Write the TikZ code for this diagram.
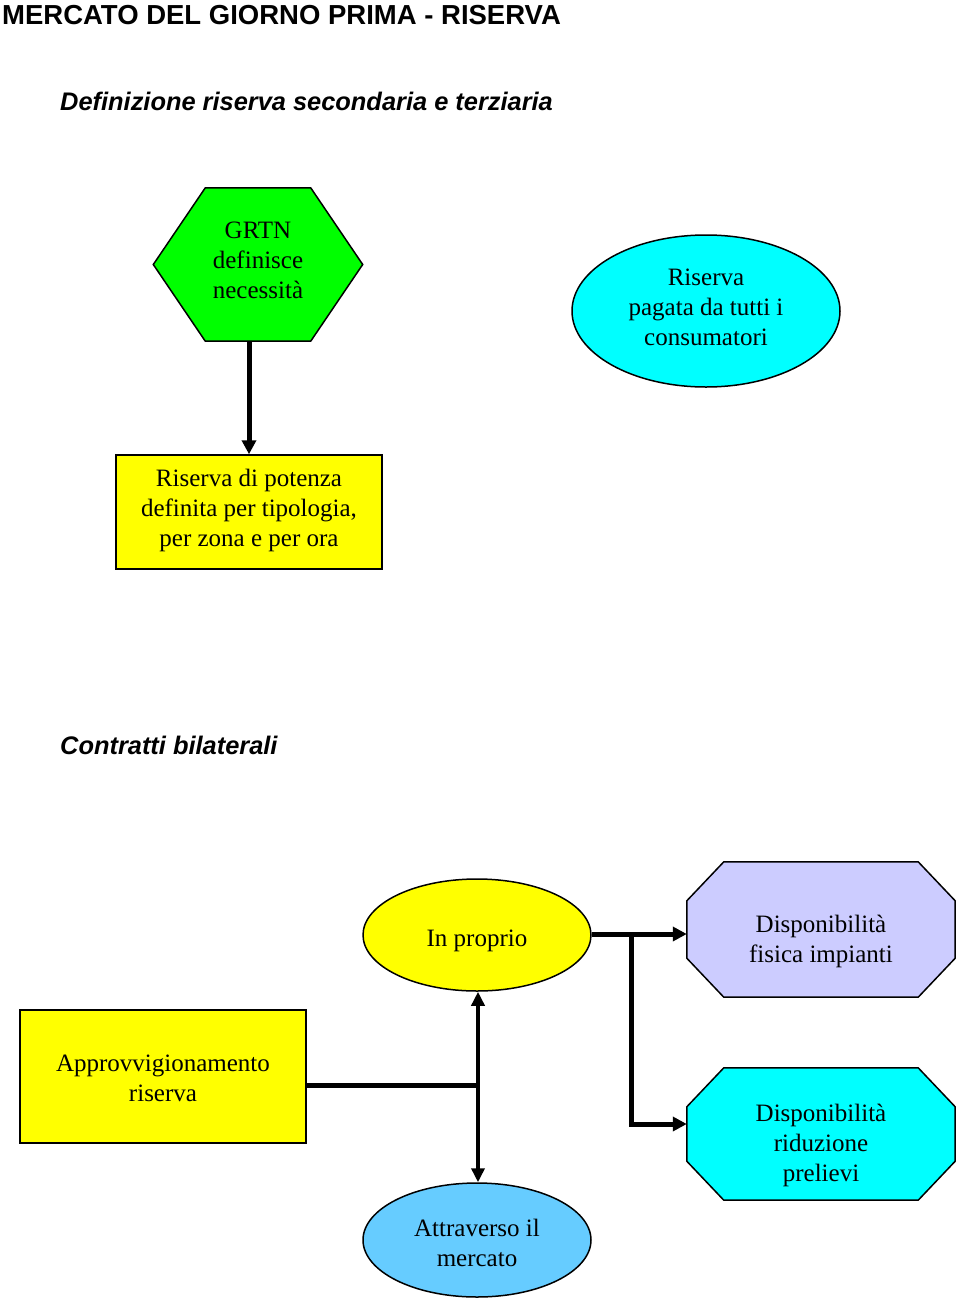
\documentclass[tikz,border=0pt]{standalone}
\usepackage{fontspec}
\setmainfont{Liberation Serif}
\setsansfont{Liberation Sans}
\usetikzlibrary{shapes.geometric,arrows.meta,backgrounds}
\definecolor{cgreen}{HTML}{00FF00}
\definecolor{ccyan}{HTML}{00FFFF}
\definecolor{cyel}{HTML}{FFFF00}
\definecolor{clav}{HTML}{CCCCFF}
\definecolor{cblue}{HTML}{66CCFF}
\tikzset{
  txt/.style={font=\fontsize{25}{30}\selectfont, align=center, inner sep=0pt},
  shp/.style={draw=black, line width=1.5pt},
  ell/.style={shp, ellipse, inner sep=0pt},
  box/.style={shp, rectangle, inner sep=0pt},
  frame/.style={rectangle, inner sep=0pt},
  conn/.style={line width=5pt},
  conn2/.style={line width=3.5pt},
  tip/.style={-{Triangle[length=14pt,width=14pt]}},
  head/.style={font=\sffamily\bfseries\itshape\fontsize{25.4}{30}\selectfont, anchor=base west, inner sep=0pt}
}
\begin{document}
\begin{tikzpicture}[x=1pt,y=-1pt]
\useasboundingbox (0,0) rectangle (960,1301);
% titles
\node[font=\sffamily\bfseries\fontsize{27.5}{32}\selectfont, anchor=base west, inner sep=0pt] (title) at (2,24) {MERCATO DEL GIORNO PRIMA - RISERVA};
\node[head] (sub1) at (60,110.5) {Definizione riserva secondaria e terziaria};
\node[head] (sub2) at (60,754) {Contratti bilaterali};

% ---- upper part
\node[frame, minimum width=209pt, minimum height=153pt] (grtn) at (258,264.5) {};
\filldraw[shp, fill=cgreen] (grtn.west) -- ([xshift=52pt]grtn.north west) -- ([xshift=-52pt]grtn.north east) -- (grtn.east) -- ([xshift=-52pt]grtn.south east) -- ([xshift=52pt]grtn.south west) -- cycle;
\node[txt] (grtnt) at (258,260.5) {GRTN\\definisce\\necessità};

\node[ell, fill=ccyan, minimum width=268pt, minimum height=152pt] (pag) at (706,311) {};
\node[txt] (pagt) at (706,307) {Riserva\\pagata da tutti i\\consumatori};

\node[box, fill=cyel, minimum width=266pt, minimum height=114pt] (pot) at (249,512) {};
\node[txt] (pott) at (249,510) {Riserva di potenza\\definita per tipologia,\\per zona e per ora};

\draw[conn, tip] (grtn.south -| pot.north) -- (pot.north);

% ---- lower part
\node[ell, fill=cyel, minimum width=228pt, minimum height=112pt] (prop) at (477,935) {};
\node[txt] (propt) at (477,941) {In proprio};

\node[frame, minimum width=268pt, minimum height=135pt] (fis) at (821,929.5) {};
\filldraw[shp, fill=clav] ([yshift=-39pt]fis.north west) -- ([xshift=37pt]fis.north west) -- ([xshift=-37pt]fis.north east) -- ([yshift=-39pt]fis.north east) -- ([yshift=39pt]fis.south east) -- ([xshift=-37pt]fis.south east) -- ([xshift=37pt]fis.south west) -- ([yshift=39pt]fis.south west) -- cycle;
\node[txt] (fist) at (821,941) {Disponibilità\\fisica impianti};

\node[frame, minimum width=268pt, minimum height=132pt] (rid) at (821,1134) {};
\filldraw[shp, fill=ccyan] ([yshift=-39pt]rid.north west) -- ([xshift=37pt]rid.north west) -- ([xshift=-37pt]rid.north east) -- ([yshift=-39pt]rid.north east) -- ([yshift=39pt]rid.south east) -- ([xshift=-37pt]rid.south east) -- ([xshift=37pt]rid.south west) -- ([yshift=39pt]rid.south west) -- cycle;
\node[txt] (ridt) at (821,1145) {Disponibilità\\riduzione\\prelievi};

\node[box, fill=cyel, minimum width=286pt, minimum height=133pt] (appr) at (163,1076.5) {};
\node[txt] (apprt) at (163,1078.5) {Approvvigionamento\\riserva};

\node[ell, fill=cblue, minimum width=228pt, minimum height=114pt] (mer) at (477,1240) {};
\node[txt] (mert) at (477,1243) {Attraverso il\\mercato};

\coordinate (j1) at (631,934);
\coordinate (j2) at (478,1085);
\draw[conn, tip] (prop.east |- j1) -- (fis.west |- j1);
\draw[conn, tip] (j1) |- ([yshift=10pt]rid.west);
\draw[conn2, {Triangle[length=14pt,width=13pt]}-{Triangle[length=14pt,width=13pt]}] (prop.south -| j2) -- (mer.north -| j2);
\draw[conn] (appr.east |- j2) -- (j2);
\end{tikzpicture}
\end{document}
